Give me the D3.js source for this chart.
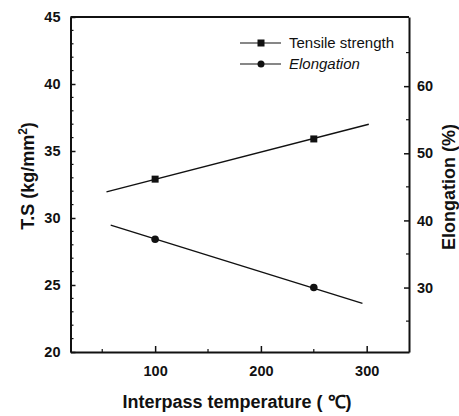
<!DOCTYPE html>
<html>
<head>
<meta charset="utf-8">
<script src="https://cdn.jsdelivr.net/npm/d3@7"></script>
<style>
  body { margin: 0; background: #fff; }
  text { font-family: "Liberation Sans", Arial, sans-serif; fill: #111; }
</style>
</head>
<body>
<div id="wrapper"></div>
<script>
const w = 459
const h = 416

// measured points
const temps = [100, 250]
const tensile = [32.9, 35.9]
const elongation = [37.2, 30.0]

// fitted lines as drawn (start / end)
const tensileFit = [[54, 31.95], [302, 37.0]]
const elongFit = [[58, 39.3], [296, 27.65]]

const xTicks = [100, 200, 300]
const leftTicks = [20, 25, 30, 35, 40, 45]
const rightTicks = [30, 40, 50, 60]

const margin = {top: 17, right: 50, bottom: 64, left: 70.5}

const svg = d3.select("#wrapper").append("svg")
  .attr("width", w)
  .attr("height", h)

const x = d3.scaleLinear().domain([20, 340]).range([margin.left, 409])
const yL = d3.scaleLinear().domain([20, 45]).range([352, margin.top])
const yR = d3.scaleLinear().domain([20.4, 70.3]).range([352, margin.top])

const g = svg.append("g")

// minor ticks, all pointing inward
const minorLeft = d3.range(20, 46, 1).filter(d => d % 5 !== 0)
g.selectAll(".mL").data(minorLeft).enter().append("line")
  .attr("x1", x.range()[0]).attr("x2", x.range()[0] + 3)
  .attr("y1", d => yL(d)).attr("y2", d => yL(d))
  .attr("stroke", "#111").attr("stroke-width", 1.2)

const minorRight = d3.range(25, 70, 5).filter(d => d % 10 !== 0)
g.selectAll(".mR").data(minorRight).enter().append("line")
  .attr("x1", x.range()[1]).attr("x2", x.range()[1] - 3)
  .attr("y1", d => yR(d)).attr("y2", d => yR(d))
  .attr("stroke", "#111").attr("stroke-width", 1.2)

const minorX = [50, 150, 250]
g.selectAll(".mX").data(minorX).enter().append("line")
  .attr("x1", d => x(d)).attr("x2", d => x(d))
  .attr("y1", 352).attr("y2", 349)
  .attr("stroke", "#111").attr("stroke-width", 1.2)

// axes
const leftAxis = d3.axisLeft(yL).tickValues(leftTicks).tickSizeInner(-5).tickSizeOuter(0).tickPadding(10)
const rightAxis = d3.axisRight(yR).tickValues(rightTicks).tickSizeInner(-5).tickSizeOuter(0).tickPadding(8)
const bottomAxis = d3.axisBottom(x).tickValues(xTicks).tickSizeInner(-6).tickSizeOuter(0).tickPadding(14)

function styleAxis(sel) {
  sel.select(".domain").attr("stroke", "#111").attr("stroke-width", 2)
  sel.selectAll(".tick line").attr("stroke", "#111").attr("stroke-width", 1.5)
  sel.selectAll(".tick text")
    .style("font-family", "'Liberation Sans', Arial, sans-serif")
    .style("font-size", "14.5px")
    .style("font-weight", "bold")
    .attr("fill", "#111")
}

g.append("g").attr("transform", `translate(${x.range()[0]},0)`).call(leftAxis).call(styleAxis)
g.append("g").attr("transform", `translate(${x.range()[1]},0)`).call(rightAxis).call(styleAxis)
g.append("g").attr("transform", "translate(0,352)").call(bottomAxis).call(styleAxis)

// top frame
g.append("line")
  .attr("x1", x.range()[0]).attr("x2", x.range()[1])
  .attr("y1", margin.top).attr("y2", margin.top)
  .attr("stroke", "#111").attr("stroke-width", 2)

// fitted lines
const lineL = d3.line().x(d => x(d[0])).y(d => yL(d[1]))
const lineR = d3.line().x(d => x(d[0])).y(d => yR(d[1]))

g.append("path").attr("d", lineL(tensileFit))
  .attr("fill", "none").attr("stroke", "#111").attr("stroke-width", 1.4)
g.append("path").attr("d", lineR(elongFit))
  .attr("fill", "none").attr("stroke", "#111").attr("stroke-width", 1.4)

// markers
g.selectAll(".sq").data(temps).enter().append("rect")
  .attr("x", (d) => x(d) - 3.5)
  .attr("y", (d, i) => yL(tensile[i]) - 3.5)
  .attr("width", 7).attr("height", 7)
  .attr("fill", "#111")

g.selectAll(".dot").data(temps).enter().append("circle")
  .attr("cx", d => x(d))
  .attr("cy", (d, i) => yR(elongation[i]))
  .attr("r", 3.8)
  .attr("fill", "#111")

// legend
const legend = svg.append("g")
legend.append("line").attr("x1", 240).attr("x2", 281).attr("y1", 43).attr("y2", 43)
  .attr("stroke", "#111").attr("stroke-width", 1.2)
legend.append("rect").attr("x", 257.5).attr("y", 39.5).attr("width", 7).attr("height", 7).attr("fill", "#111")
legend.append("text").attr("x", 289).attr("y", 48).text("Tensile strength")
  .style("font-size", "15px")

legend.append("line").attr("x1", 240).attr("x2", 281).attr("y1", 64).attr("y2", 64)
  .attr("stroke", "#111").attr("stroke-width", 1.2)
legend.append("circle").attr("cx", 261).attr("cy", 64).attr("r", 3.5).attr("fill", "#111")
legend.append("text").attr("x", 289).attr("y", 69).text("Elongation")
  .style("font-size", "15px").style("font-style", "italic")

// axis titles
const ts = svg.append("text")
  .attr("transform", "translate(34,176) rotate(-90)")
  .attr("text-anchor", "middle")
  .style("font-size", "18px").style("font-weight", "bold")
ts.append("tspan").text("T.S  (kg/mm")
ts.append("tspan").text("2").attr("dy", -7).style("font-size", "12px")
ts.append("tspan").text(")").attr("dy", 7)

svg.append("text")
  .attr("transform", "translate(455,187) rotate(-90)")
  .attr("text-anchor", "middle")
  .style("font-size", "18px").style("font-weight", "bold")
  .text("Elongation (%)")

svg.append("text")
  .attr("x", 237).attr("y", 408)
  .attr("text-anchor", "middle")
  .style("font-size", "18px").style("font-weight", "bold")
  .text("Interpass temperature ( \u2103)")
</script>
</body>
</html>
